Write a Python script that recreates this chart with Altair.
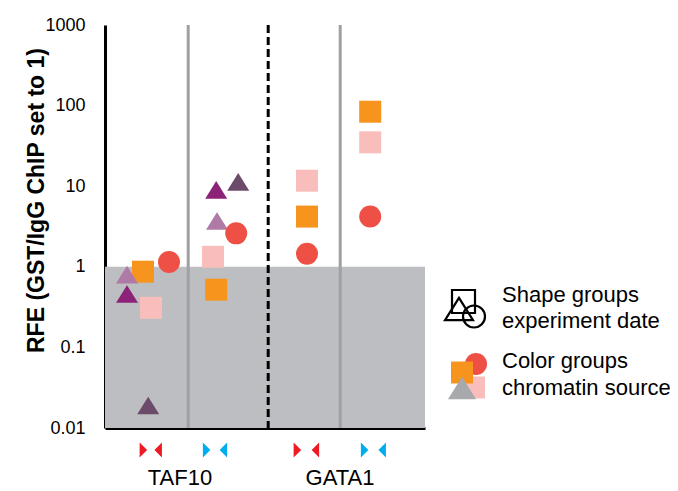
import altair as alt
import pandas as pd

# ---------------- data ----------------
TRI = "M0,-0.8L1,0.8L-1,0.8Z"
RIGHT = "M-0.5,-1L0.5,0L-0.5,1Z"
LEFT = "M0.5,-1L-0.5,0L0.5,1Z"

ORANGE = "#F7941D"
RED = "#EF5045"
PINK = "#F9BEBB"
LPURP = "#B07AA6"
DPURP = "#8C2379"
MAUVE = "#6C4B6A"

# points (x in column units, y = RFE)
point_x = [0.95, 1.15, 2.70, 2.78, 5.05, 5.05, 6.63, 6.63,
           0.55, 0.55, 1.08, 2.80, 2.78, 3.33,
           1.60, 3.28, 5.05, 6.63]
point_y = [0.87, 0.31, 1.33, 0.52, 11.7, 4.2, 84, 35,
           0.80, 0.46, 0.019, 3.7, 9.0, 11.3,
           1.15, 2.6, 1.45, 4.2]
point_shape = ["square"] * 8 + [TRI] * 6 + ["circle"] * 4
point_color = [ORANGE, PINK, PINK, ORANGE, PINK, ORANGE, ORANGE, PINK,
               LPURP, DPURP, MAUVE, LPURP, DPURP, MAUVE,
               RED, RED, RED, RED]

grey_lines = [2.08, 5.88]
dashed_lines = [4.08]

bow_x = [0.96, 1.33, 2.54, 2.96, 4.81, 5.26, 6.49, 6.93]
bow_shape = [RIGHT, LEFT] * 4
bow_color = ["#ED1C24", "#ED1C24", "#00AEEF", "#00AEEF",
             "#ED1C24", "#ED1C24", "#00AEEF", "#00AEEF"]

group_labels = ["TAF10", "GATA1"]
group_x = [1.875, 5.875]

y_ticks = [0.01, 0.1, 1, 10, 100, 1000]

FONT = "Liberation Sans"

pts = pd.DataFrame({"x": point_x, "y": point_y, "shape": point_shape,
                    "color": point_color, "o": list(range(len(point_x)))})
bows = pd.DataFrame({"x": bow_x, "shape": bow_shape, "color": bow_color})
labs = pd.DataFrame({"x": group_x, "label": group_labels})
band = pd.DataFrame({"x": [0], "x2": [8], "y": [0.01], "y2": [1]})

xs = alt.Scale(domain=[0, 8], nice=False, zero=False)
ys = alt.Scale(type="log", domain=[0.01, 1000], nice=False)

xaxis = alt.Axis(title=None, labels=False, ticks=False, grid=False,
                 domainColor="black", domainWidth=3)
yaxis = alt.Axis(title="RFE (GST/IgG ChIP set to 1)", values=y_ticks, format="~g",
                 ticks=False, grid=False, domainColor="black", domainWidth=3,
                 labelFont=FONT, labelFontSize=18, labelColor="black",
                 labelPadding=20,
                 titleFont=FONT, titleFontSize=23, titleFontWeight="bold",
                 titleColor="black", titleAngle=-90, titleX=-69, titleY=175,
                 titleAlign="center", titleBaseline="middle")

rect = alt.Chart(band).mark_rect(color="#BCBEC1").encode(
    x=alt.X("x:Q", scale=xs, axis=xaxis),
    x2="x2",
    y=alt.Y("y:Q", scale=ys, axis=yaxis),
    y2="y2",
)

glines = alt.Chart(pd.DataFrame({"x": grey_lines})).mark_rule(
    color="#A0A0A4", strokeWidth=3).encode(x=alt.X("x:Q", scale=xs))
dlines = alt.Chart(pd.DataFrame({"x": dashed_lines})).mark_rule(
    color="black", strokeWidth=3, strokeDash=[8, 4]).encode(x=alt.X("x:Q", scale=xs))

points = alt.Chart(pts).mark_point(filled=True, opacity=1, size=484).encode(
    x=alt.X("x:Q", scale=xs),
    y=alt.Y("y:Q", scale=ys),
    shape=alt.Shape("shape:N", scale=None),
    color=alt.Color("color:N", scale=None),
    order="o:Q",
)

bowm = alt.Chart(bows).mark_point(filled=True, opacity=1, size=225).encode(
    x=alt.X("x:Q", scale=xs),
    y=alt.value(425),
    shape=alt.Shape("shape:N", scale=None),
    color=alt.Color("color:N", scale=None),
)

glabels = alt.Chart(labs).mark_text(font=FONT, fontSize=22, color="black",
                                    baseline="alphabetic", align="center").encode(
    x=alt.X("x:Q", scale=xs),
    y=alt.value(460),
    text="label:N",
)

one = pd.DataFrame({"a": [0]})


def icon(px, py, shape, size, color, filled=True):
    if filled:
        m = alt.Chart(one).mark_point(shape=shape, size=size, filled=True,
                                      color=color, opacity=1)
    else:
        m = alt.Chart(one).mark_point(shape=shape, size=size, filled=False,
                                      stroke="black", strokeWidth=2.2, opacity=1)
    return m.encode(x=alt.value(px), y=alt.value(py))


def ltext(px, py, txt):
    return alt.Chart(one).mark_text(text=txt, font=FONT, fontSize=22, color="black",
                                    align="left", baseline="alphabetic").encode(
        x=alt.value(px), y=alt.value(py))


legend = [
    icon(358.5, 276.5, "square", 529, None, filled=False),
    icon(354, 284, TRI, 784, None, filled=False),
    icon(369, 291.5, "circle", 484, None, filled=False),
    ltext(397, 277, "Shape groups"),
    ltext(397, 303, "experiment date"),
    icon(371, 339, "circle", 484, RED),
    icon(369, 362.5, "square", 484, PINK),
    icon(357, 347.5, "square", 484, ORANGE),
    icon(357, 363, TRI, 784, "#A7A9AC"),
    ltext(397, 343, "Color groups"),
    ltext(397, 370, "chromatin source"),
]

chart = alt.layer(rect, glines, dlines, points, bowm, glabels, *legend).properties(
    width=320, height=403,
    autosize=alt.AutoSizeParams(type="none"),
    padding={"left": 97, "top": 17, "right": 245, "bottom": 64},
).configure_view(stroke=None)

chart.save("out.html", embed_options={"renderer": "svg", "actions": False})
